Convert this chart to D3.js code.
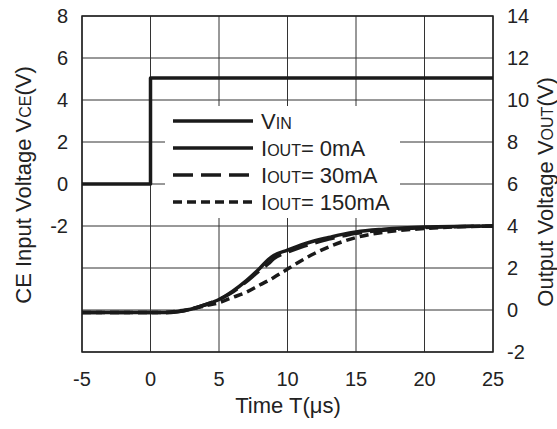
<!DOCTYPE html>
<html>
<head>
<meta charset="utf-8">
<script src="https://cdn.jsdelivr.net/npm/d3@7"></script>
<style>
  body { margin: 0; background: #fff; }
  text { font-family: "Liberation Sans", Arial, sans-serif; fill: #222; }
</style>
</head>
<body>
<script>
// time axis (us) shared by the VOUT curves
var timeUs   = [-5, 0, 1, 2, 3, 4, 5, 6, 7, 8, 8.6, 9, 10, 11, 12, 13, 14, 15, 17, 20, 25];
var vout0mA  = [-0.12, -0.12, -0.12, -0.08, 0.05, 0.25, 0.5, 0.9, 1.4, 2.0, 2.4, 2.6, 2.85, 3.1, 3.3, 3.45, 3.6, 3.72, 3.85, 3.95, 4.0];
var vout30mA = [-0.12, -0.12, -0.12, -0.07, 0.05, 0.25, 0.5, 0.85, 1.35, 1.9, 2.2, 2.45, 2.75, 3.0, 3.2, 3.38, 3.52, 3.65, 3.8, 3.92, 4.0];
var vout150mA = [-0.12, -0.12, -0.12, -0.05, 0.05, 0.2, 0.35, 0.6, 0.85, 1.2, 1.4, 1.55, 1.95, 2.35, 2.7, 3.0, 3.25, 3.45, 3.7, 3.88, 4.0];
// CE input step
var vinT = [-5, 0, 0, 25];
var vinV = [0, 0, 5.05, 5.05];

var xTicks = [-5, 0, 5, 10, 15, 20, 25];
var leftTicks = [8, 6, 4, 2, 0, -2];
var rightTicks = [14, 12, 10, 8, 6, 4, 2, 0, -2];
var gridY = [-8, -6, -4, -2, 0, 2, 4, 6, 8];

var W = 557, H = 429;
var svg = d3.select("body").append("svg")
  .attr("width", W)
  .attr("height", H);

var x = d3.scaleLinear().domain([-5, 25]).range([82, 493]);
var yL = d3.scaleLinear().domain([-8, 8]).range([352, 16]);
var yR = d3.scaleLinear().domain([-2, 14]).range([352, 16]);

//
// grid
//
svg.append("g").selectAll("line.v")
  .data(xTicks)
  .enter().append("line")
  .attr("x1", function(d){ return x(d); })
  .attr("x2", function(d){ return x(d); })
  .attr("y1", yL(8))
  .attr("y2", yL(-8))
  .attr("stroke", "#333")
  .attr("stroke-width", 1);

svg.append("g").selectAll("line.h")
  .data(gridY)
  .enter().append("line")
  .attr("x1", x(-5))
  .attr("x2", x(25))
  .attr("y1", function(d){ return yL(d); })
  .attr("y2", function(d){ return yL(d); })
  .attr("stroke", "#333")
  .attr("stroke-width", 1);

svg.append("rect")
  .attr("x", x(-5))
  .attr("y", yL(8))
  .attr("width", x(25) - x(-5))
  .attr("height", yL(-8) - yL(8))
  .attr("fill", "none")
  .attr("stroke", "#222")
  .attr("stroke-width", 1.5);

// legend background hides the grid
svg.append("rect")
  .attr("x", 165).attr("y", 106)
  .attr("width", 235).attr("height", 112)
  .attr("fill", "#fff");

//
// tick labels
//
svg.append("g").selectAll("text")
  .data(xTicks)
  .enter().append("text")
  .attr("x", function(d){ return x(d); })
  .attr("y", 386)
  .attr("text-anchor", "middle")
  .attr("font-size", 20)
  .text(function(d){ return d; });

svg.append("g").selectAll("text")
  .data(leftTicks)
  .enter().append("text")
  .attr("x", 68)
  .attr("y", function(d){ return yL(d); })
  .attr("dy", "0.36em")
  .attr("text-anchor", "end")
  .attr("font-size", 20)
  .text(function(d){ return d; });

svg.append("g").selectAll("text")
  .data(rightTicks)
  .enter().append("text")
  .attr("x", 507)
  .attr("y", function(d){ return yR(d); })
  .attr("dy", "0.36em")
  .attr("text-anchor", "start")
  .attr("font-size", 20)
  .text(function(d){ return d; });

//
// axis titles
//
svg.append("text")
  .attr("x", 288).attr("y", 413)
  .attr("text-anchor", "middle")
  .attr("font-size", 22)
  .text("Time T(\u03bcs)");

var lt = svg.append("text")
  .attr("transform", "translate(31,185) rotate(-90)")
  .attr("text-anchor", "middle")
  .attr("font-size", 22);
lt.append("tspan").text("CE Input Voltage V");
lt.append("tspan").attr("font-size", 16).text("CE");
lt.append("tspan").text("(V)");

var rt = svg.append("text")
  .attr("transform", "translate(553,192) rotate(-90)")
  .attr("text-anchor", "middle")
  .attr("font-size", 22);
rt.append("tspan").text("Output Voltage V");
rt.append("tspan").attr("font-size", 16).text("OUT");
rt.append("tspan").text("(V)");

//
// curves
//
var lineR = d3.line()
  .x(function(d){ return x(d[0]); })
  .y(function(d){ return yR(d[1]); })
  .curve(d3.curveMonotoneX);
var lineL = d3.line()
  .x(function(d){ return x(d[0]); })
  .y(function(d){ return yL(d[1]); });

var series = [
  { vals: vout150mA, dash: "9,5" },
  { vals: vout30mA, dash: "20,8" },
  { vals: vout0mA, dash: null }
];
series.forEach(function(s) {
  svg.append("path")
    .attr("d", lineR(timeUs.map(function(t, i){ return [t, s.vals[i]]; })))
    .attr("fill", "none")
    .attr("stroke", "#1a1a1a")
    .attr("stroke-width", 3.5)
    .attr("stroke-dasharray", s.dash);
});

svg.append("path")
  .attr("d", lineL(vinT.map(function(t, i){ return [t, vinV[i]]; })))
  .attr("fill", "none")
  .attr("stroke", "#1a1a1a")
  .attr("stroke-width", 3.5)
  .attr("stroke-linejoin", "round");

//
// legend
//
var legendRows = [
  { main: "V", sub: "IN", rest: "", dash: null },
  { main: "I", sub: "OUT", rest: "= 0mA", dash: null },
  { main: "I", sub: "OUT", rest: "= 30mA", dash: "20,8" },
  { main: "I", sub: "OUT", rest: "= 150mA", dash: "9,5" }
];
legendRows.forEach(function(r, i) {
  var ly = 121 + i * 27;
  svg.append("line")
    .attr("x1", 173).attr("x2", 253)
    .attr("y1", ly).attr("y2", ly)
    .attr("stroke", "#1a1a1a")
    .attr("stroke-width", 3.5)
    .attr("stroke-dasharray", r.dash);
  var t = svg.append("text")
    .attr("x", 261).attr("y", ly + 8)
    .attr("font-size", 22);
  t.append("tspan").text(r.main);
  t.append("tspan").attr("font-size", 16).text(r.sub);
  if (r.rest) t.append("tspan").text(r.rest);
});
</script>
</body>
</html>
